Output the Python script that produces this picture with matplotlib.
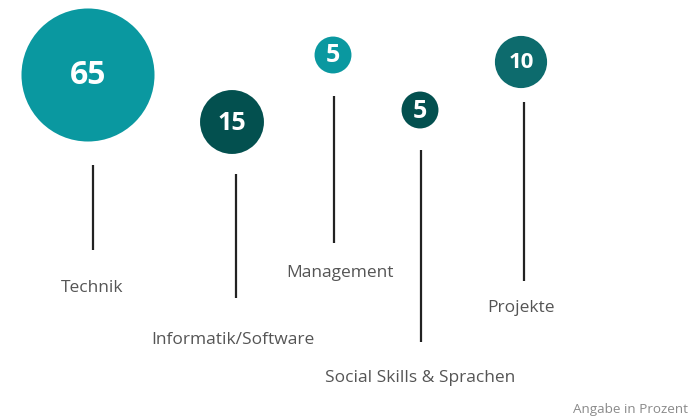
import matplotlib.pyplot as plt
from matplotlib.patches import Circle

# data
categories = ["Technik", "Informatik/Software", "Management",
              "Social Skills & Sprachen", "Projekte"]
values = [65, 15, 5, 5, 10]

# layout (pixel coordinates, y downwards)
circle_x = [88, 232, 333, 420, 521]
circle_y = [75, 122, 55, 110, 62]
line_x = [93, 236, 334, 421, 524]
line_top = [165, 174, 96, 150, 102]
line_bottom = [250, 298, 243, 342, 281]
label_x = [92, 233, 340, 420, 521]
label_y = [288, 340, 273, 378, 308]
colors = ["#0A98A0", "#03504F", "#0A98A0", "#03504F", "#0D6B6D"]
num_sizes = [23, 18, 18, 18, 16]

W, H = 689, 418
fig = plt.figure(figsize=(W / 100, H / 100), dpi=100)
ax = fig.add_axes([0, 0, 1, 1])
ax.set_xlim(0, W)
ax.set_ylim(H, 0)
ax.set_aspect("equal")
ax.axis("off")

font = "Open Sans"

for i, v in enumerate(values):
    r = 8.25 * v ** 0.5  # area proportional to value
    ax.add_patch(Circle((circle_x[i], circle_y[i]), r, color=colors[i], lw=0))
    ax.text(circle_x[i], circle_y[i] + 1, str(v), color="white", ha="center",
            va="center", fontsize=num_sizes[i], fontweight="bold", family=font)
    ax.plot([line_x[i], line_x[i]], [line_top[i], line_bottom[i]],
            color="#222222", lw=1.6, solid_capstyle="butt")
    ax.text(label_x[i], label_y[i], categories[i], color="#555555", ha="center",
            va="center", fontsize=12.5, family=font)

ax.text(688, 410, "Angabe in Prozent", color="#8a8a8a", ha="right", va="center",
        fontsize=9.7, family=font)

fig.savefig("out.png", dpi=100)
